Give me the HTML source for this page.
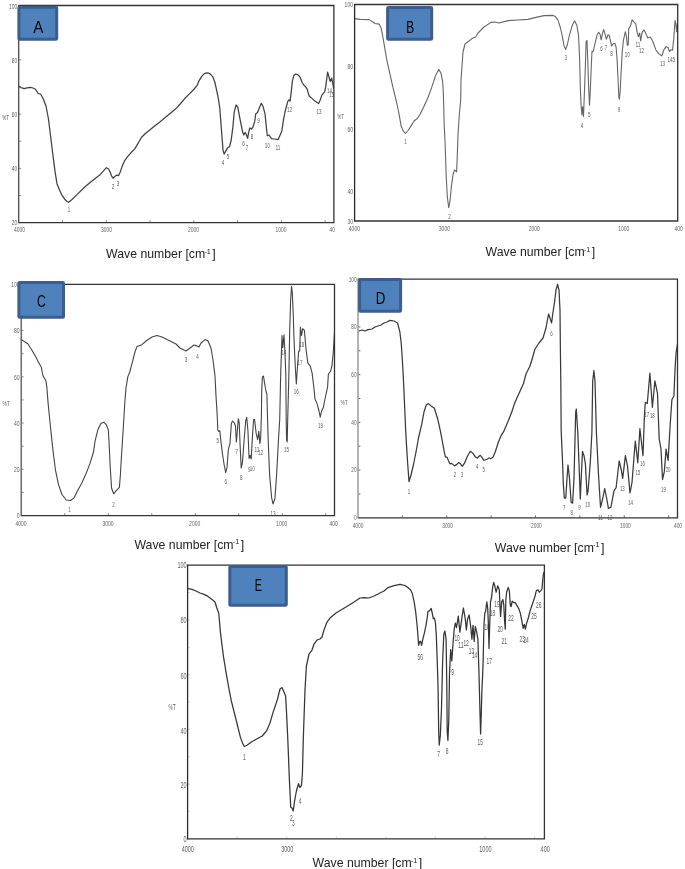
<!DOCTYPE html>
<html><head><meta charset="utf-8"><style>
html,body{margin:0;padding:0;background:#fff;}
body{width:685px;height:869px;overflow:hidden;}
svg{display:block;will-change:transform;}
text{font-family:"Liberation Sans",sans-serif;}
.fr{fill:none;stroke:#333;stroke-width:1.3;}
.cv{fill:none;stroke-linejoin:round;stroke-linecap:round;}
.tm{stroke:#777;stroke-width:0.9;}
.tk{fill:#626262;}
.lb{fill:#5a5a5a;}
.bx{fill:#4f81bd;stroke:#3a5f8e;stroke-width:3;}
.bl{font-size:16.3px;fill:#000;}
.wv{font-size:12.4px;fill:#222;}
.sp{font-size:7px;fill:#222;}
</style></head><body>
<svg width="685" height="869" viewBox="0 0 685 869">
<rect width="685" height="869" fill="#fff"/>
<g id="pA"><path d="M19.2,32.65h1.9M19.2,59.8h1.9M19.2,86.95h1.9M19.2,114.1h1.9M19.2,141.25h1.9M19.2,168.4h1.9M19.2,195.55h1.9M62.48,222.2v-1.9M106.26,222.2v-1.9M150.03,222.2v-1.9M193.81,222.2v-1.9M237.59,222.2v-1.9M281.37,222.2v-1.9M325.14,222.2v-1.9" class="tm" style="stroke:#777"/>
<text x="8.95" y="8.51" class="tk" style="font-size:7px" textLength="8.25" lengthAdjust="spacingAndGlyphs">100</text>
<text x="11.7" y="62.51" class="tk" style="font-size:7px" textLength="5.5" lengthAdjust="spacingAndGlyphs">80</text>
<text x="11.7" y="116.51" class="tk" style="font-size:7px" textLength="5.5" lengthAdjust="spacingAndGlyphs">60</text>
<text x="11.7" y="170.81" class="tk" style="font-size:7px" textLength="5.5" lengthAdjust="spacingAndGlyphs">40</text>
<text x="11.7" y="225.11" class="tk" style="font-size:7px" textLength="5.5" lengthAdjust="spacingAndGlyphs">20</text>
<text x="14" y="232.21" class="tk" style="font-size:7px" textLength="11" lengthAdjust="spacingAndGlyphs">4000</text>
<text x="101" y="232.21" class="tk" style="font-size:7px" textLength="11" lengthAdjust="spacingAndGlyphs">3000</text>
<text x="188.1" y="232.21" class="tk" style="font-size:7px" textLength="11" lengthAdjust="spacingAndGlyphs">2000</text>
<text x="275.5" y="232.21" class="tk" style="font-size:7px" textLength="11" lengthAdjust="spacingAndGlyphs">1000</text>
<text x="329.55" y="232.21" class="tk" style="font-size:7px" textLength="5.5" lengthAdjust="spacingAndGlyphs">40</text>
<text x="1.9" y="120.11" class="tk" style="font-size:7px" textLength="7.2" lengthAdjust="spacingAndGlyphs">%T</text>
<text x="67.75" y="211.51" class="lb" style="font-size:7px" textLength="2.5" lengthAdjust="spacingAndGlyphs">1</text>
<text x="111.75" y="188.51" class="lb" style="font-size:7px" textLength="2.5" lengthAdjust="spacingAndGlyphs">2</text>
<text x="116.75" y="186.11" class="lb" style="font-size:7px" textLength="2.5" lengthAdjust="spacingAndGlyphs">3</text>
<text x="221.75" y="164.51" class="lb" style="font-size:7px" textLength="2.5" lengthAdjust="spacingAndGlyphs">4</text>
<text x="226.75" y="158.51" class="lb" style="font-size:7px" textLength="2.5" lengthAdjust="spacingAndGlyphs">5</text>
<text x="242.35" y="145.51" class="lb" style="font-size:7px" textLength="2.5" lengthAdjust="spacingAndGlyphs">6</text>
<text x="245.75" y="149.51" class="lb" style="font-size:7px" textLength="2.5" lengthAdjust="spacingAndGlyphs">7</text>
<text x="250.75" y="139.11" class="lb" style="font-size:7px" textLength="2.5" lengthAdjust="spacingAndGlyphs">8</text>
<text x="257.15" y="123.01" class="lb" style="font-size:7px" textLength="2.5" lengthAdjust="spacingAndGlyphs">9</text>
<text x="264.8" y="147.51" class="lb" style="font-size:7px" textLength="5" lengthAdjust="spacingAndGlyphs">10</text>
<text x="275.5" y="150.11" class="lb" style="font-size:7px" textLength="5" lengthAdjust="spacingAndGlyphs">11</text>
<text x="287" y="112.31" class="lb" style="font-size:7px" textLength="5" lengthAdjust="spacingAndGlyphs">12</text>
<text x="316.5" y="114.31" class="lb" style="font-size:7px" textLength="5" lengthAdjust="spacingAndGlyphs">13</text>
<text x="326.9" y="92.51" class="lb" style="font-size:7px" textLength="5" lengthAdjust="spacingAndGlyphs">14</text>
<text x="329.2" y="97.01" class="lb" style="font-size:7px" textLength="5" lengthAdjust="spacingAndGlyphs">15</text>
<polyline points="18.9,86.2 21,87.6 24.3,88.7 27,87.9 30.5,87.4 33,88 35.2,89 38.3,93.6 40.6,94 43,98.3 46,106 48.4,118.5 50.7,137 53,155.7 55,171.3 57,183.7 59.5,190 61.6,194.6 64.7,199.2 66.8,201.3 68.6,202.3 72,199.5 77,194.6 85,186.8 92.6,180.6 100.4,174.4 106.4,167.7 108.6,169 110.3,172.5 111.6,176 113,178.2 114.7,176.5 116.5,175.2 118.6,175.6 120.4,171.7 122.1,166.4 124.3,161.2 127.4,156.8 130.9,152.8 134.8,148.9 137.9,143.6 141.4,137.5 144.9,134 150,129.8 155.3,125.4 160.5,121.5 165.8,117.1 171,112.7 176.3,108.3 180.6,103.5 185,98.3 189.4,93.9 193.8,89.5 197.3,85.1 199,80.8 201.7,76.4 204.3,73.6 206.9,72.9 209.4,73.3 212.7,76.6 214.8,82 217,91.9 218.7,100.6 219.8,108.3 220.8,121.4 221.9,135.6 223,149.8 224.1,154.2 225.8,150.9 227.4,148.1 229.6,146.5 231.2,140 232.9,126.8 234.3,111.5 236.1,105 237.8,107.2 239.4,115.9 241.1,124.6 242.7,132.3 243.8,135 245.2,132.5 246.3,134.5 247.6,138.3 248.7,132.3 249.8,127.9 251.4,129 253.1,126.8 254.7,121.4 255.8,113.7 257.5,112.6 259.6,107.2 261.3,103.3 262.9,106.1 265,113.7 266,123.6 267.3,135.8 269,135 271.4,138.6 274.5,139 278,139.7 280.6,134 281.9,130.7 283.5,119.7 285.2,111 287.9,101.1 289,99.8 290.1,101.1 291.2,92.4 292.3,81.4 293.9,75.4 295.6,74 297.8,74.6 300,77 302.2,82.5 303.9,85.3 305.4,86.4 307.1,89.1 309.3,96.2 311.5,97.9 314.8,101.1 318.6,103.6 320.2,100 321.9,95.1 324.6,91.8 325.7,86.9 327.6,72.1 329,77 330.1,81.4 331.7,78.1 332.3,81.4 333.6,88" class="cv" style="stroke:#404040;stroke-width:1.25"/>
<path d="M18.7,222.7H333.9V5.5H18.7" class="fr"/>
<line x1="18.7" y1="4.9" x2="18.7" y2="223.3" class="fr" style="stroke:#4a4a4a"/>
<rect x="18.9" y="7.2" width="37.8" height="32" rx="0.8" class="bx"/>
<text x="33.2" y="32.8" class="bl" textLength="10.1" lengthAdjust="spacingAndGlyphs">A</text>
<text x="106.1" y="258.2" class="wv" textLength="99.1" lengthAdjust="spacingAndGlyphs">Wave number [cm</text>
<text x="204.4" y="253.8" class="sp" textLength="6.4" lengthAdjust="spacingAndGlyphs">-1</text>
<text x="212.3" y="258.2" class="wv">]</text></g>
<g id="pB"><text x="344.6" y="7.11" class="tk" style="font-size:7px" textLength="8.4" lengthAdjust="spacingAndGlyphs">100</text>
<text x="347.4" y="69.11" class="tk" style="font-size:7px" textLength="5.6" lengthAdjust="spacingAndGlyphs">80</text>
<text x="347.4" y="132.11" class="tk" style="font-size:7px" textLength="5.6" lengthAdjust="spacingAndGlyphs">60</text>
<text x="347.4" y="193.91" class="tk" style="font-size:7px" textLength="5.6" lengthAdjust="spacingAndGlyphs">40</text>
<text x="347.4" y="223.51" class="tk" style="font-size:7px" textLength="5.6" lengthAdjust="spacingAndGlyphs">30</text>
<text x="348.8" y="231.31" class="tk" style="font-size:7px" textLength="11.2" lengthAdjust="spacingAndGlyphs">4000</text>
<text x="438.8" y="231.31" class="tk" style="font-size:7px" textLength="11.2" lengthAdjust="spacingAndGlyphs">3000</text>
<text x="528.7" y="231.31" class="tk" style="font-size:7px" textLength="11.2" lengthAdjust="spacingAndGlyphs">2000</text>
<text x="618.2" y="231.31" class="tk" style="font-size:7px" textLength="11.2" lengthAdjust="spacingAndGlyphs">1000</text>
<text x="674.5" y="231.31" class="tk" style="font-size:7px" textLength="8.4" lengthAdjust="spacingAndGlyphs">400</text>
<text x="336.9" y="118.81" class="tk" style="font-size:7px" textLength="7.2" lengthAdjust="spacingAndGlyphs">%T</text>
<text x="404.35" y="144.11" class="lb" style="font-size:7px" textLength="2.5" lengthAdjust="spacingAndGlyphs">1</text>
<text x="448.25" y="219.01" class="lb" style="font-size:7px" textLength="2.5" lengthAdjust="spacingAndGlyphs">2</text>
<text x="564.45" y="60.01" class="lb" style="font-size:7px" textLength="2.5" lengthAdjust="spacingAndGlyphs">3</text>
<text x="580.75" y="128.01" class="lb" style="font-size:7px" textLength="2.5" lengthAdjust="spacingAndGlyphs">4</text>
<text x="587.95" y="117.11" class="lb" style="font-size:7px" textLength="2.5" lengthAdjust="spacingAndGlyphs">5</text>
<text x="600.35" y="50.91" class="lb" style="font-size:7px" textLength="2.5" lengthAdjust="spacingAndGlyphs">6</text>
<text x="604.75" y="50.31" class="lb" style="font-size:7px" textLength="2.5" lengthAdjust="spacingAndGlyphs">7</text>
<text x="610.25" y="56.01" class="lb" style="font-size:7px" textLength="2.5" lengthAdjust="spacingAndGlyphs">8</text>
<text x="617.75" y="111.51" class="lb" style="font-size:7px" textLength="2.5" lengthAdjust="spacingAndGlyphs">9</text>
<text x="624.7" y="57.21" class="lb" style="font-size:7px" textLength="5" lengthAdjust="spacingAndGlyphs">10</text>
<text x="635.5" y="47.21" class="lb" style="font-size:7px" textLength="5" lengthAdjust="spacingAndGlyphs">11</text>
<text x="639.1" y="53.21" class="lb" style="font-size:7px" textLength="5" lengthAdjust="spacingAndGlyphs">12</text>
<text x="660.1" y="66.41" class="lb" style="font-size:7px" textLength="5" lengthAdjust="spacingAndGlyphs">13</text>
<text x="667.55" y="62.41" class="lb" style="font-size:7px" textLength="7.5" lengthAdjust="spacingAndGlyphs">145</text>
<polyline points="355,18.6 360,19.4 369,19.6 373,22 375,23.5 379.1,24.1 381.2,28.3 383.3,39.3 385.4,51.8 387.4,62.8 390.2,75.2 393,87.7 395.7,98.7 398.5,111.1 401.2,126.3 403.3,131.1 405.4,133.5 408.1,130.5 411.2,125.6 414.3,120.8 417.1,118.7 419.9,114.6 423.3,107.7 427.5,98.7 431.6,87.7 435.7,75.2 438.8,69.4 441,73.2 442.7,82.1 443.3,91.8 443.8,109.7 444.2,125 444.9,138.7 445.5,155 446.2,176 447.3,196.7 448.7,207.7 450,200.8 451.5,185.6 453,174.6 454.5,169.8 456.6,171.8 457.3,155 458,134.5 459.4,113.8 460.7,100 461,80 463,52 465,44 469,41 472,38.6 475.6,37 478,33 484,27 491,22.4 495,22 499,23 508,20.6 518,20 528,19.4 536,17.4 544,15.6 553,15.4 555,16.2 557.8,19.7 560.5,28 562.6,37.6 564,45.9 565.8,49.4 567.4,44.5 569.5,34.9 572.3,25.2 574.6,20.8 576.8,25.2 578.5,34.9 579.6,58.3 580.3,86 581,103.9 581.9,115 582.6,106.7 583.5,116.4 584.4,92.9 585.4,65.2 586.1,41.8 587,40.4 587.7,58.3 588.6,86 589.5,105.3 590.2,92.9 591.2,68 592,51.4 593.4,51.2 595.1,43.1 597.1,34.9 598.7,32.3 600,34.2 601.2,39.8 602.4,33.6 603.7,29.6 604.9,33.6 606.4,39.2 608,34.8 609.3,35.4 610.5,41 611.7,46 613.4,43.5 614.9,43.5 616.1,47.2 617.1,59.6 618,78.2 618.8,96.8 619.4,99.3 620.2,90.6 621.1,72 622.3,50.9 623.5,39.8 625.4,31.7 626.6,37.3 627.3,45.4 628.3,44.7 628.7,28.6 630.4,26.1 632.2,19.7 634.1,22.4 635.7,23.6 637.2,32.3 638.4,36.7 639.7,33 640.7,41 642.1,32.3 644,29.9 645.9,33.6 647.7,37.9 650.2,37 652.7,41 655.8,49.7 658.3,53.4 661.8,55.9 663.9,49.7 666.3,46.6 668.2,47.8 669.4,51.6 670.9,49.7 672.5,50.3 673.8,38.5 675,20.5 675.9,23.6 676.6,31.7 677.2,24.9" class="cv" style="stroke:#666;stroke-width:1.1"/>
<path d="M354.6,221H677.7V4.5H354.6" class="fr"/>
<line x1="354.6" y1="3.9" x2="354.6" y2="221.6" class="fr" style="stroke:#262626"/>
<rect x="387.6" y="7.6" width="44.1" height="31.6" rx="0.8" class="bx"/>
<text x="406.3" y="32.8" class="bl" textLength="7.9" lengthAdjust="spacingAndGlyphs">B</text>
<text x="485.6" y="256" class="wv" textLength="99.1" lengthAdjust="spacingAndGlyphs">Wave number [cm</text>
<text x="583.9" y="251.6" class="sp" textLength="6.4" lengthAdjust="spacingAndGlyphs">-1</text>
<text x="591.8" y="256" class="wv">]</text></g>
<g id="pC"><path d="M21.7,307.43h1.9M21.7,330.56h1.9M21.7,353.69h1.9M21.7,376.82h1.9M21.7,399.95h1.9M21.7,423.08h1.9M21.7,446.21h1.9M21.7,469.34h1.9M21.7,492.47h1.9M64.71,515.1v-1.9M108.23,515.1v-1.9M151.74,515.1v-1.9M195.26,515.1v-1.9M238.77,515.1v-1.9M282.28,515.1v-1.9M325.8,515.1v-1.9" class="tm" style="stroke:#777"/>
<text x="11.2" y="286.91" class="tk" style="font-size:7px" textLength="8.4" lengthAdjust="spacingAndGlyphs">100</text>
<text x="14" y="332.91" class="tk" style="font-size:7px" textLength="5.6" lengthAdjust="spacingAndGlyphs">80</text>
<text x="14" y="379.51" class="tk" style="font-size:7px" textLength="5.6" lengthAdjust="spacingAndGlyphs">60</text>
<text x="14" y="426.11" class="tk" style="font-size:7px" textLength="5.6" lengthAdjust="spacingAndGlyphs">40</text>
<text x="14" y="471.91" class="tk" style="font-size:7px" textLength="5.6" lengthAdjust="spacingAndGlyphs">20</text>
<text x="16.8" y="518.11" class="tk" style="font-size:7px" textLength="2.8" lengthAdjust="spacingAndGlyphs">0</text>
<text x="15.4" y="525.71" class="tk" style="font-size:7px" textLength="11.2" lengthAdjust="spacingAndGlyphs">4000</text>
<text x="102.4" y="525.71" class="tk" style="font-size:7px" textLength="11.2" lengthAdjust="spacingAndGlyphs">3000</text>
<text x="189.1" y="525.71" class="tk" style="font-size:7px" textLength="11.2" lengthAdjust="spacingAndGlyphs">2000</text>
<text x="276.1" y="525.71" class="tk" style="font-size:7px" textLength="11.2" lengthAdjust="spacingAndGlyphs">1000</text>
<text x="329.5" y="525.71" class="tk" style="font-size:7px" textLength="8.4" lengthAdjust="spacingAndGlyphs">400</text>
<text x="2.4" y="406.11" class="tk" style="font-size:7px" textLength="7.2" lengthAdjust="spacingAndGlyphs">%T</text>
<text x="68.15" y="512.11" class="lb" style="font-size:7px" textLength="2.5" lengthAdjust="spacingAndGlyphs">1</text>
<text x="112.35" y="506.51" class="lb" style="font-size:7px" textLength="2.5" lengthAdjust="spacingAndGlyphs">2</text>
<text x="184.75" y="362.11" class="lb" style="font-size:7px" textLength="2.5" lengthAdjust="spacingAndGlyphs">3</text>
<text x="196.35" y="358.91" class="lb" style="font-size:7px" textLength="2.5" lengthAdjust="spacingAndGlyphs">4</text>
<text x="216.45" y="442.91" class="lb" style="font-size:7px" textLength="2.5" lengthAdjust="spacingAndGlyphs">5</text>
<text x="224.45" y="484.11" class="lb" style="font-size:7px" textLength="2.5" lengthAdjust="spacingAndGlyphs">6</text>
<text x="235.45" y="453.51" class="lb" style="font-size:7px" textLength="2.5" lengthAdjust="spacingAndGlyphs">7</text>
<text x="239.95" y="479.51" class="lb" style="font-size:7px" textLength="2.5" lengthAdjust="spacingAndGlyphs">8</text>
<text x="247.95" y="472.11" class="lb" style="font-size:7px" textLength="2.5" lengthAdjust="spacingAndGlyphs">9</text>
<text x="249.7" y="471.11" class="lb" style="font-size:7px" textLength="5" lengthAdjust="spacingAndGlyphs">10</text>
<text x="254.4" y="451.51" class="lb" style="font-size:7px" textLength="5" lengthAdjust="spacingAndGlyphs">11</text>
<text x="258.1" y="454.91" class="lb" style="font-size:7px" textLength="5" lengthAdjust="spacingAndGlyphs">12</text>
<text x="270.5" y="515.51" class="lb" style="font-size:7px" textLength="5" lengthAdjust="spacingAndGlyphs">13</text>
<text x="281.2" y="355.41" class="lb" style="font-size:7px" textLength="5" lengthAdjust="spacingAndGlyphs">14</text>
<text x="284" y="452.21" class="lb" style="font-size:7px" textLength="5" lengthAdjust="spacingAndGlyphs">15</text>
<text x="293.8" y="394.31" class="lb" style="font-size:7px" textLength="5" lengthAdjust="spacingAndGlyphs">16</text>
<text x="297.5" y="364.91" class="lb" style="font-size:7px" textLength="5" lengthAdjust="spacingAndGlyphs">17</text>
<text x="299.3" y="346.81" class="lb" style="font-size:7px" textLength="5" lengthAdjust="spacingAndGlyphs">18</text>
<text x="317.9" y="427.51" class="lb" style="font-size:7px" textLength="5" lengthAdjust="spacingAndGlyphs">19</text>
<polyline points="21.4,339.6 27.8,343.8 32,350.2 36.3,357.7 37.8,360.9 41.2,366.9 42.9,375.5 45.9,380.7 46.9,387.6 48.1,403.1 49.8,420.3 51.6,437.6 53.3,453.1 55.5,470.3 58.4,484.1 61.9,494.5 66.2,500 70.5,500.5 74,497.9 77.4,491 81.7,483.3 86,473.8 90,463.4 93.5,452 95,441.4 97.9,429.7 100.9,423.4 103.8,422.2 106.3,424.8 108.3,429.7 109.1,443.3 110.2,466.8 111.6,488.3 113.6,493.8 116.5,490.3 119.4,487.3 120.4,474.6 121.4,457 123.3,427.7 124.7,404.3 125.9,388.6 127.8,376.9 129.8,372 132.1,363.2 135.1,351.5 137,346.6 141.9,344.7 146,341 152,337 157,335.4 162,337 170,341 176,344 180,348 186,351 190,348 194,345 196,345.6 199,347 201,343 205,339.6 208,341 211,348 213,360 215,376 216,396 217.2,415 217.8,430 218.7,431.4 219.8,430.7 221,442 222.5,454 224,464 225.7,472.6 227,467.4 228.4,449.4 230,443.4 231.4,423.2 232.6,421 234.4,423.2 235.5,426.2 236.4,442 237.4,430 238.3,418.7 239.2,422.5 240.1,445 241.2,468 242.4,462.9 244.2,439 245.7,421 246.7,417.2 247.9,430 249.1,458.4 250.1,455.4 251.2,459 252.4,437.4 253.6,419.5 254.6,419.5 256.1,433 257.6,439.7 258.8,431.4 259.9,443.4 260.6,439 261.4,415 261.7,391 262.4,377 263.5,376 264.7,384 265.9,391 266.9,394 267.6,420 268.1,437.4 269.6,474.9 271.6,497.3 273,504 274.9,498.8 276.6,474.9 278.6,437.4 279.7,420 280.7,373.6 282,335.6 282.8,347.7 284,334.8 285,353 285.8,373.6 286.2,420 286.6,440 287.2,442 287.7,420 288.9,373.6 289.7,330.4 290.6,301 291.5,286.4 292.3,292.5 293.2,313 294,339 295.3,366.7 296.3,384 297.5,366.7 298.7,351 299.7,351 300.4,327 301.5,335.6 302.7,328.7 304.4,330.4 306,349 307.8,362.8 310.3,366.2 312.1,373.1 313.8,386.9 315,399 317.2,404.1 319,411 320.2,417.1 321.6,411 323.3,407.6 325,399 327.6,386.9 328.4,374 330.5,371.4 331.9,366.2 333.3,352.4 334.5,331.7" class="cv" style="stroke:#444;stroke-width:1.1"/>
<path d="M21.2,515.6H334.5V284.3H21.2" class="fr"/>
<line x1="21.2" y1="283.7" x2="21.2" y2="516.2" class="fr" style="stroke:#555"/>
<rect x="18.9" y="282.6" width="44.6" height="34.6" rx="0.8" class="bx"/>
<text x="37.1" y="307.1" class="bl" textLength="8.8" lengthAdjust="spacingAndGlyphs">C</text>
<text x="134.5" y="548.7" class="wv" textLength="99.1" lengthAdjust="spacingAndGlyphs">Wave number [cm</text>
<text x="232.8" y="544.3" class="sp" textLength="6.4" lengthAdjust="spacingAndGlyphs">-1</text>
<text x="240.7" y="548.7" class="wv">]</text></g>
<g id="pD"><path d="M358.5,303.06h1.9M358.5,326.92h1.9M358.5,350.78h1.9M358.5,374.64h1.9M358.5,398.5h1.9M358.5,422.36h1.9M358.5,446.22h1.9M358.5,470.08h1.9M358.5,493.94h1.9M402.38,517.3v-1.9M446.75,517.3v-1.9M491.12,517.3v-1.9M535.5,517.3v-1.9M579.88,517.3v-1.9M624.25,517.3v-1.9M668.62,517.3v-1.9" class="tm" style="stroke:#555"/>
<text x="348.65" y="281.91" class="tk" style="font-size:7px" textLength="7.95" lengthAdjust="spacingAndGlyphs">100</text>
<text x="351.3" y="329.11" class="tk" style="font-size:7px" textLength="5.3" lengthAdjust="spacingAndGlyphs">80</text>
<text x="351.3" y="376.91" class="tk" style="font-size:7px" textLength="5.3" lengthAdjust="spacingAndGlyphs">60</text>
<text x="351.3" y="424.51" class="tk" style="font-size:7px" textLength="5.3" lengthAdjust="spacingAndGlyphs">40</text>
<text x="351.3" y="472.11" class="tk" style="font-size:7px" textLength="5.3" lengthAdjust="spacingAndGlyphs">20</text>
<text x="353.95" y="519.91" class="tk" style="font-size:7px" textLength="2.65" lengthAdjust="spacingAndGlyphs">0</text>
<text x="352.7" y="527.71" class="tk" style="font-size:7px" textLength="10.6" lengthAdjust="spacingAndGlyphs">4000</text>
<text x="442.3" y="527.71" class="tk" style="font-size:7px" textLength="10.6" lengthAdjust="spacingAndGlyphs">3000</text>
<text x="531.1" y="527.71" class="tk" style="font-size:7px" textLength="10.6" lengthAdjust="spacingAndGlyphs">2000</text>
<text x="620.1" y="527.71" class="tk" style="font-size:7px" textLength="10.6" lengthAdjust="spacingAndGlyphs">1000</text>
<text x="674.02" y="527.71" class="tk" style="font-size:7px" textLength="7.95" lengthAdjust="spacingAndGlyphs">400</text>
<text x="340.4" y="404.91" class="tk" style="font-size:7px" textLength="7.2" lengthAdjust="spacingAndGlyphs">%T</text>
<text x="407.8" y="493.58" class="lb" style="font-size:7.2px" textLength="2.4" lengthAdjust="spacingAndGlyphs">1</text>
<text x="453.8" y="476.98" class="lb" style="font-size:7.2px" textLength="2.4" lengthAdjust="spacingAndGlyphs">2</text>
<text x="460.8" y="476.98" class="lb" style="font-size:7.2px" textLength="2.4" lengthAdjust="spacingAndGlyphs">3</text>
<text x="476.1" y="468.98" class="lb" style="font-size:7.2px" textLength="2.4" lengthAdjust="spacingAndGlyphs">4</text>
<text x="482.6" y="472.08" class="lb" style="font-size:7.2px" textLength="2.4" lengthAdjust="spacingAndGlyphs">5</text>
<text x="550.2" y="335.58" class="lb" style="font-size:7.2px" textLength="2.4" lengthAdjust="spacingAndGlyphs">6</text>
<text x="563.1" y="510.38" class="lb" style="font-size:7.2px" textLength="2.4" lengthAdjust="spacingAndGlyphs">7</text>
<text x="570.4" y="515.08" class="lb" style="font-size:7.2px" textLength="2.4" lengthAdjust="spacingAndGlyphs">8</text>
<text x="578.2" y="510.38" class="lb" style="font-size:7.2px" textLength="2.4" lengthAdjust="spacingAndGlyphs">9</text>
<text x="585.3" y="506.78" class="lb" style="font-size:7.2px" textLength="4.8" lengthAdjust="spacingAndGlyphs">10</text>
<text x="598.1" y="520.28" class="lb" style="font-size:7.2px" textLength="4.8" lengthAdjust="spacingAndGlyphs">11</text>
<text x="607.5" y="519.88" class="lb" style="font-size:7.2px" textLength="4.8" lengthAdjust="spacingAndGlyphs">12</text>
<text x="619.9" y="490.88" class="lb" style="font-size:7.2px" textLength="4.8" lengthAdjust="spacingAndGlyphs">13</text>
<text x="628.2" y="504.78" class="lb" style="font-size:7.2px" textLength="4.8" lengthAdjust="spacingAndGlyphs">14</text>
<text x="635.4" y="474.78" class="lb" style="font-size:7.2px" textLength="4.8" lengthAdjust="spacingAndGlyphs">15</text>
<text x="640" y="466.48" class="lb" style="font-size:7.2px" textLength="4.8" lengthAdjust="spacingAndGlyphs">16</text>
<text x="644.3" y="417.38" class="lb" style="font-size:7.2px" textLength="4.8" lengthAdjust="spacingAndGlyphs">17</text>
<text x="649.9" y="418.38" class="lb" style="font-size:7.2px" textLength="4.8" lengthAdjust="spacingAndGlyphs">18</text>
<text x="661.1" y="492.18" class="lb" style="font-size:7.2px" textLength="4.8" lengthAdjust="spacingAndGlyphs">19</text>
<text x="665.7" y="472.48" class="lb" style="font-size:7.2px" textLength="4.8" lengthAdjust="spacingAndGlyphs">20</text>
<polyline points="359,331 362,330 365,331 368,329.6 372,329 375,327 378,326 381,325 384,323 387,322 390,320.4 394,321 397.6,323 399.9,332.2 401.2,343 402.2,357.5 403.2,375 404,392 404.8,410 405.6,428.9 406.5,445 407.5,461 409,481.6 411,475 413.6,464 416,452 418.5,438 421.7,424.3 424,412 426.3,404.8 428.5,403.6 431,405.9 434.4,408.2 437.9,419.7 440.5,431.7 442.3,441 444,450.4 445.4,456.8 447.2,457.4 448.5,460.9 449.9,463.8 451.6,463.4 454.5,465.9 456.9,464.4 458.6,462.6 460.6,464.1 462.3,466.4 464.5,463.2 467.4,456.2 470.3,451.3 472.6,452.9 475.5,457.1 477.3,458 480.2,455.3 482,457.4 483.7,460.3 486.6,459.5 489,458 490.7,458.8 493.1,457.1 495.4,451.5 498.3,442.2 500.7,436.4 503.6,431.7 507.1,423.5 508,421.5 511.5,412.8 514.9,402.5 519.2,393 523.5,383.5 526,374 530,366 533,356 535,349 539,343 543,338 546,328 547.4,320 548.6,314 550,318 551.6,323 553,312 554.6,302 556,290 557.6,284.4 559,290 560,310 560.4,350 560.8,381 561.2,431.8 562.4,457.7 563.3,483.6 564.3,498 565.8,498 567,478.4 568,465 569.5,478.4 571.1,502.2 572.6,503.2 574,478.4 575.7,412 576.3,409 577.8,432.8 579.4,474.2 580.3,499 581,482.5 582.5,451.4 584,455.6 585.4,463.9 587.1,495 588.1,490.8 590.2,463.9 591.9,432.8 592.7,381 593.9,370.7 595,381 596.4,432.8 598.5,474.2 600.5,507.3 602.6,499 604.7,488.7 606.8,499 608.4,508.4 610.9,507.3 614,490.8 616.1,487.7 619.2,460.8 621.3,470 622.7,478.4 625.4,455.6 627.5,466 630,492.9 632,482.5 635.3,441 637.8,462.8 639.9,428.7 643,455.6 644.4,416.3 645.3,402.3 647.3,403.5 649.9,373.2 652.4,407.3 654.9,380.8 657.5,393.4 659.2,439 661,449 662.5,479.5 664.3,471.9 666.1,449.1 668.1,460.5 670.1,426.3 671.9,399.7 673.9,396 675.2,365.6 676.2,351.8 677.4,344.5" class="cv" style="stroke:#3a3a3a;stroke-width:1.25"/>
<path d="M358,517.8H677.5V279.2H358" class="fr"/>
<line x1="358" y1="278.6" x2="358" y2="518.4" class="fr" style="stroke:#8a8a8a"/>
<rect x="359.6" y="279.6" width="41" height="31.6" rx="0.8" class="bx"/>
<text x="375.7" y="304" class="bl" textLength="9.6" lengthAdjust="spacingAndGlyphs">D</text>
<text x="494.8" y="551.6" class="wv" textLength="99.1" lengthAdjust="spacingAndGlyphs">Wave number [cm</text>
<text x="593.1" y="547.2" class="sp" textLength="6.4" lengthAdjust="spacingAndGlyphs">-1</text>
<text x="601" y="551.6" class="wv">]</text></g>
<g id="pE"><path d="M188.1,592.56h1.9M188.1,619.92h1.9M188.1,647.28h1.9M188.1,674.64h1.9M188.1,702h1.9M188.1,729.36h1.9M188.1,756.72h1.9M188.1,784.08h1.9M188.1,811.44h1.9M237.16,838.3v-1.9M286.71,838.3v-1.9M336.27,838.3v-1.9M385.82,838.3v-1.9M435.38,838.3v-1.9M484.93,838.3v-1.9M534.49,838.3v-1.9" class="tm" style="stroke:#cfcfcf"/>
<text x="177.45" y="568.08" class="tk" style="font-size:8.6px" textLength="9.15" lengthAdjust="spacingAndGlyphs">100</text>
<text x="180.5" y="623.08" class="tk" style="font-size:8.6px" textLength="6.1" lengthAdjust="spacingAndGlyphs">80</text>
<text x="180.5" y="678.68" class="tk" style="font-size:8.6px" textLength="6.1" lengthAdjust="spacingAndGlyphs">60</text>
<text x="180.5" y="734.08" class="tk" style="font-size:8.6px" textLength="6.1" lengthAdjust="spacingAndGlyphs">40</text>
<text x="180.5" y="788.48" class="tk" style="font-size:8.6px" textLength="6.1" lengthAdjust="spacingAndGlyphs">20</text>
<text x="183.55" y="842.48" class="tk" style="font-size:8.6px" textLength="3.05" lengthAdjust="spacingAndGlyphs">0</text>
<text x="181.7" y="852.08" class="tk" style="font-size:8.6px" textLength="12.2" lengthAdjust="spacingAndGlyphs">4000</text>
<text x="281.2" y="852.08" class="tk" style="font-size:8.6px" textLength="12.2" lengthAdjust="spacingAndGlyphs">3000</text>
<text x="479.3" y="852.08" class="tk" style="font-size:8.6px" textLength="12.2" lengthAdjust="spacingAndGlyphs">1000</text>
<text x="540.62" y="852.08" class="tk" style="font-size:8.6px" textLength="9.15" lengthAdjust="spacingAndGlyphs">400</text>
<text x="168.4" y="710.08" class="tk" style="font-size:8.6px" textLength="7.2" lengthAdjust="spacingAndGlyphs">%T</text>
<text x="242.95" y="759.94" class="lb" style="font-size:9.6px" textLength="2.7" lengthAdjust="spacingAndGlyphs">1</text>
<text x="289.95" y="821.44" class="lb" style="font-size:9.6px" textLength="2.7" lengthAdjust="spacingAndGlyphs">2</text>
<text x="292.05" y="825.64" class="lb" style="font-size:9.6px" textLength="2.7" lengthAdjust="spacingAndGlyphs">3</text>
<text x="298.65" y="803.64" class="lb" style="font-size:9.6px" textLength="2.7" lengthAdjust="spacingAndGlyphs">4</text>
<text x="417.6" y="659.84" class="lb" style="font-size:9.6px" textLength="5.4" lengthAdjust="spacingAndGlyphs">56</text>
<text x="437.35" y="757.34" class="lb" style="font-size:9.6px" textLength="2.7" lengthAdjust="spacingAndGlyphs">7</text>
<text x="445.85" y="754.34" class="lb" style="font-size:9.6px" textLength="2.7" lengthAdjust="spacingAndGlyphs">8</text>
<text x="451.15" y="674.84" class="lb" style="font-size:9.6px" textLength="2.7" lengthAdjust="spacingAndGlyphs">9</text>
<text x="454.4" y="641.44" class="lb" style="font-size:9.6px" textLength="5.4" lengthAdjust="spacingAndGlyphs">10</text>
<text x="458.3" y="648.34" class="lb" style="font-size:9.6px" textLength="5.4" lengthAdjust="spacingAndGlyphs">11</text>
<text x="463.4" y="645.54" class="lb" style="font-size:9.6px" textLength="5.4" lengthAdjust="spacingAndGlyphs">12</text>
<text x="468.7" y="654.44" class="lb" style="font-size:9.6px" textLength="5.4" lengthAdjust="spacingAndGlyphs">13</text>
<text x="471.9" y="657.74" class="lb" style="font-size:9.6px" textLength="5.4" lengthAdjust="spacingAndGlyphs">14</text>
<text x="477.5" y="745.14" class="lb" style="font-size:9.6px" textLength="5.4" lengthAdjust="spacingAndGlyphs">15</text>
<text x="484.4" y="629.74" class="lb" style="font-size:9.6px" textLength="5.4" lengthAdjust="spacingAndGlyphs">16</text>
<text x="486.6" y="663.64" class="lb" style="font-size:9.6px" textLength="5.4" lengthAdjust="spacingAndGlyphs">17</text>
<text x="489.8" y="616.44" class="lb" style="font-size:9.6px" textLength="5.4" lengthAdjust="spacingAndGlyphs">18</text>
<text x="494.2" y="607.24" class="lb" style="font-size:9.6px" textLength="5.4" lengthAdjust="spacingAndGlyphs">19</text>
<text x="497.4" y="631.84" class="lb" style="font-size:9.6px" textLength="5.4" lengthAdjust="spacingAndGlyphs">20</text>
<text x="501.5" y="643.64" class="lb" style="font-size:9.6px" textLength="5.4" lengthAdjust="spacingAndGlyphs">21</text>
<text x="508.2" y="621.04" class="lb" style="font-size:9.6px" textLength="5.4" lengthAdjust="spacingAndGlyphs">22</text>
<text x="519.5" y="642.34" class="lb" style="font-size:9.6px" textLength="5.4" lengthAdjust="spacingAndGlyphs">23</text>
<text x="523.2" y="643.14" class="lb" style="font-size:9.6px" textLength="5.4" lengthAdjust="spacingAndGlyphs">24</text>
<text x="531.2" y="619.34" class="lb" style="font-size:9.6px" textLength="5.4" lengthAdjust="spacingAndGlyphs">25</text>
<text x="536.1" y="607.74" class="lb" style="font-size:9.6px" textLength="5.4" lengthAdjust="spacingAndGlyphs">26</text>
<polyline points="188,588.6 192,589.4 196,591 200,593 204,594.4 208,596.4 212,599.4 215,602 216.6,607.3 218.8,613.5 220.4,632.1 222,645 223.5,656.9 226.6,675.6 228.9,688.5 231.2,700.4 235.9,719 240.5,737.6 242.5,743 244.3,746.5 247,745.2 251.3,742 256.7,739 262.2,736 266.5,731 269.8,723.5 273,712.6 277.4,699.6 280,689 282,687.6 284,692 285.6,696 286.4,710 287.8,739 289.3,777.8 290.7,807 292,808 293.2,811 294.6,801 296.5,790.5 298.5,783.7 299.8,787.5 301.4,785.6 302.4,774 303.3,739 304.3,709.7 305,690 306.4,666 309,654 312,650 314,644 317,640 320,639 322,637 324,630 327,622 330,618 336,613 346,607 354,602 360,598 364,597.6 369,598 374,596 380,593 384,591 388,587.6 394,585.6 400,584.4 405,585.5 407.8,587.4 410.5,589.7 412.4,593.8 414.2,602.1 415.6,611.3 417,624.2 417.9,635.2 418.6,645.3 419.7,641.6 420.5,641.2 421.6,645.3 422.9,638.9 424.3,633.4 425.7,626.9 427.1,618.6 428,611.3 429.4,610.8 431.2,608.5 432.4,614 433.3,618.6 434.4,618.2 435.4,622.3 436.3,635.2 437.2,660 438,685.2 438.7,731.3 439.2,745.1 440.3,735.9 441.5,708.2 442.6,662.2 443.8,634.5 444.9,631 446.1,639.1 446.8,685.2 447.2,731.3 447.9,740.5 448.8,719.8 449.5,673.7 450.7,649.5 451.8,661 453,643.7 454.1,629.9 455.3,623 456.5,627.6 458.3,616.1 459.9,632.2 461.8,618.4 463.4,608 465.2,618.4 466.4,629.9 467.5,619.5 469.1,614.9 470.7,626.5 471.9,639.1 473,625.3 474.2,641.4 475.3,626.5 476.7,632.2 477.9,639.1 479,673.7 480,712.9 480.6,734 481.3,712.9 481.9,690 482.6,676 483.2,660 483.6,640 484,624.4 484.8,613.1 485.6,611.5 486.8,601.9 487.7,608.3 488.4,624.4 489,648.6 489.7,624.4 490.5,601.9 491.6,597 492.6,587.4 493.7,582.5 494.8,585.8 496.1,592.2 497.7,585.8 499.3,589.8 500.1,608.3 500.6,616.4 501.7,601.9 502.9,599.5 503.8,605.1 504.6,621.2 505.3,629.2 505.8,600.3 506.6,592.2 508.2,587.4 509.3,590.6 510.3,605.1 511.1,606.7 512.2,601.1 513.8,602.7 515.4,602.7 516.7,605.1 518.6,608.3 520.3,613.1 521.9,621.2 523.2,628.4 524.3,624.4 525.4,629.2 526.7,622.8 528.3,618 529.9,611.5 531.5,606.7 533.1,601.9 534.8,597 536.4,590.6 538,589.8 539.3,592.2 540.9,590.6 542,589 542.8,579.3 543.6,572.9 544.4,572" class="cv" style="stroke:#353535;stroke-width:1.25"/>
<path d="M187.6,838.8H544.4V565.2H187.6" class="fr"/>
<line x1="187.6" y1="564.6" x2="187.6" y2="839.4" class="fr" style="stroke:#2e2e2e"/>
<rect x="229.8" y="566.4" width="56.5" height="38.9" rx="0.8" class="bx"/>
<text x="254.8" y="590.9" class="bl" textLength="7.2" lengthAdjust="spacingAndGlyphs">E</text>
<text x="312.6" y="867.1" class="wv" textLength="99.1" lengthAdjust="spacingAndGlyphs">Wave number [cm</text>
<text x="410.9" y="862.7" class="sp" textLength="6.4" lengthAdjust="spacingAndGlyphs">-1</text>
<text x="418.8" y="867.1" class="wv">]</text></g>
</svg></body></html>
